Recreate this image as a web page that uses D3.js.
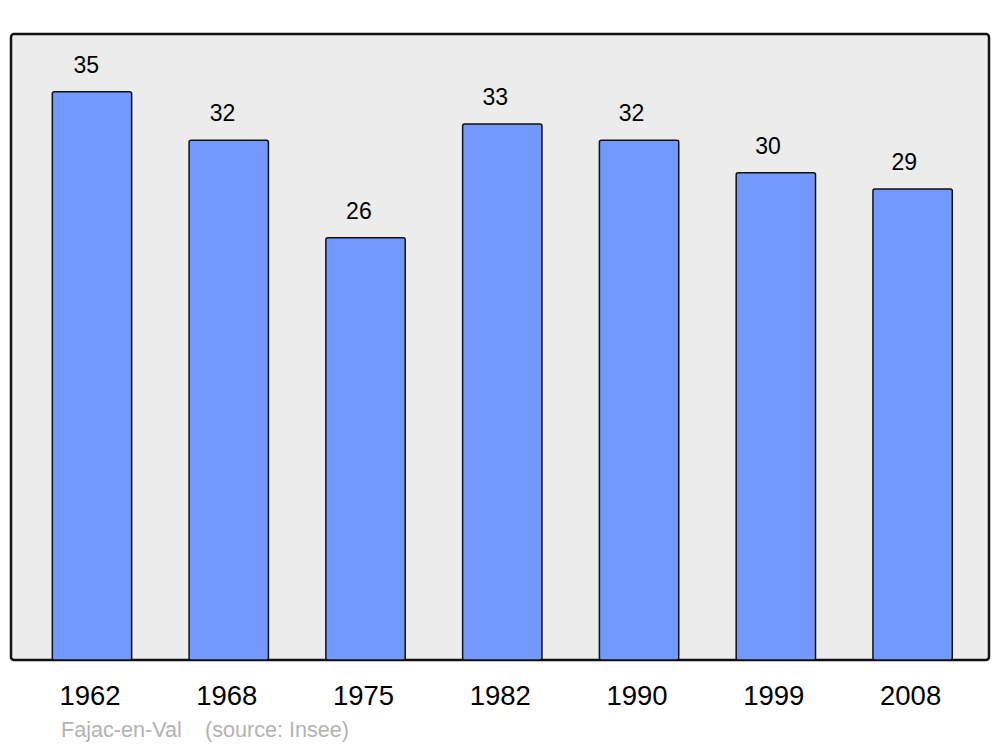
<!DOCTYPE html>
<html><head><meta charset="utf-8">
<script src="https://cdn.jsdelivr.net/npm/d3@7"></script>
<style>body{margin:0;background:#fff}svg{display:block}text{font-family:"Liberation Sans",Arial,sans-serif}</style>
</head><body>
<script>
const years = ["1962","1968","1975","1982","1990","1999","2008"];
const values = [35,32,26,33,32,30,29];
const placeName = "Fajac-en-Val";
const sourceText = "(source: Insee)";

const W = 1000, H = 747;
const svg = d3.select("body").append("svg").attr("width", W).attr("height", H);
const frame = {x0: 11, x1: 989, y0: 34, y1: 660};

svg.append("rect").attr("x", frame.x0).attr("y", frame.y0)
  .attr("width", frame.x1 - frame.x0).attr("height", frame.y1 - frame.y0)
  .attr("rx", 3).attr("fill", "#ececec").attr("stroke", "#111").attr("stroke-width", 2.5);

const x = d3.scaleBand().domain(years).range([23.6, 981]).paddingInner(0.42).paddingOuter(0.21);
const y = d3.scaleLinear().domain([0, 38.55]).range([frame.y1, frame.y0]);
// label positions use a slightly narrower band scale
const xl = d3.scaleBand().domain(years).range([18, 972.5]);

svg.selectAll("rect.bar").data(values).enter().append("rect").attr("class","bar")
  .attr("x", (d,i) => x(years[i]))
  .attr("y", d => y(d))
  .attr("width", x.bandwidth())
  .attr("height", d => frame.y1 - y(d))
  .attr("rx", 2)
  .attr("fill", "#7399ff").attr("stroke", "#111").attr("stroke-width", 1.5);

svg.selectAll("text.val").data(values).enter().append("text").attr("class","val")
  .attr("x", (d,i) => xl(years[i]) + xl.bandwidth()/2)
  .attr("y", d => y(d) - 19)
  .attr("text-anchor", "middle").attr("font-size", 23).attr("fill", "#000")
  .text(d => d);

svg.selectAll("text.yr").data(years).enter().append("text").attr("class","yr")
  .attr("x", d => x(d) + x.bandwidth()/2 - 2)
  .attr("y", 705)
  .attr("text-anchor", "middle").attr("font-size", 27.5).attr("fill", "#000")
  .text(d => d);

svg.append("text").attr("x", 61).attr("y", 737).attr("font-size", 21.6).attr("fill", "#b3b3b3").text(placeName);
svg.append("text").attr("x", 205).attr("y", 737).attr("font-size", 21.6).attr("fill", "#b3b3b3").text(sourceText);
</script>
</body></html>
